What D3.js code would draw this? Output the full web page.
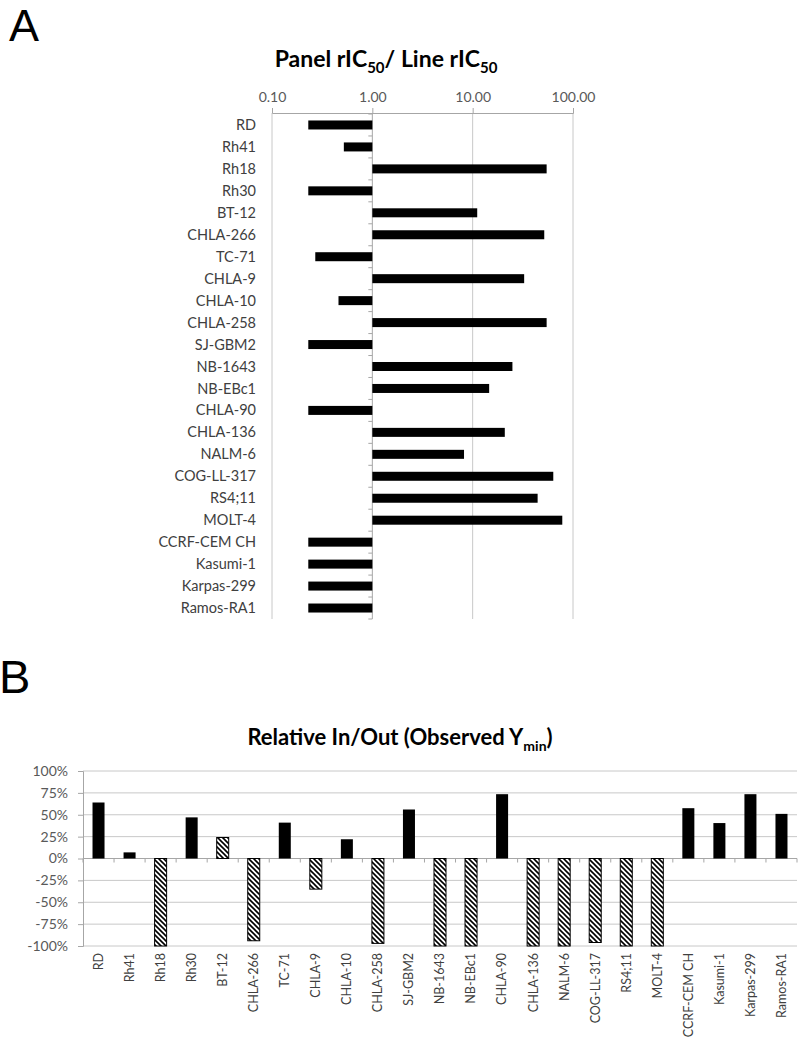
<!DOCTYPE html>
<html>
<head>
<meta charset="utf-8">
<script src="https://cdn.jsdelivr.net/npm/d3@7"></script>
<style>
  html, body { margin: 0; padding: 0; background: #fff; }
  svg { display: block; }
  text { font-family: Lato, "Open Sans", sans-serif; }
</style>
</head>
<body>
<svg id="chart" width="800" height="1040"></svg>
<script>
// ---------- data ----------
const categories = ["RD","Rh41","Rh18","Rh30","BT-12","CHLA-266","TC-71","CHLA-9","CHLA-10","CHLA-258",
  "SJ-GBM2","NB-1643","NB-EBc1","CHLA-90","CHLA-136","NALM-6","COG-LL-317","RS4;11","MOLT-4",
  "CCRF-CEM CH","Kasumi-1","Karpas-299","Ramos-RA1"];
// Panel A: Panel rIC50 / Line rIC50
const ratioValues = [0.23,0.52,54.6,0.23,11.1,51.7,0.27,32.6,0.46,54.6,
  0.23,24.9,14.6,0.23,20.9,8.2,63.6,44.4,78.2,
  0.23,0.23,0.23,0.23];
const ratioTicks = [0.1, 1, 10, 100];
// Panel B: Relative In/Out (Observed Ymin), fraction
const inOutValues = [0.64,0.07,-1.00,0.47,0.24,-0.94,0.41,-0.35,0.22,-0.97,
  0.56,-1.00,-1.00,0.735,-1.00,-1.00,-0.96,-1.00,-1.00,
  0.575,0.405,0.735,0.51];
const pctTicks = [-1,-0.75,-0.5,-0.25,0,0.25,0.5,0.75,1];

const svg = d3.select("#chart");
const gridColor = "#c8c8c8";
const axisColor = "#a6a6a6";

// hatch pattern
const defs = svg.append("defs");
const pat = defs.append("pattern").attr("id","hatch").attr("patternUnits","userSpaceOnUse")
  .attr("width",5).attr("height",5);
pat.append("rect").attr("width",5).attr("height",5).attr("fill","#fff");
pat.append("path").attr("d","M0,0L5,5M-1,4L1,6M4,-1L6,1").attr("stroke","#000").attr("stroke-width",1.6);

// ---------- Panel A ----------
svg.append("text").attr("x",9).attr("y",41).attr("font-size",45)
  .style("font-family","'Liberation Sans', Arial, sans-serif").text("A");

const tA = svg.append("text").attr("x",386).attr("y",67).attr("text-anchor","middle")
  .attr("font-size",23).attr("font-weight","bold").attr("fill","#000");
tA.append("tspan").text("Panel rIC");
tA.append("tspan").attr("font-size",15).attr("dy",6).text("50");
tA.append("tspan").attr("dy",-6).text("/ Line rIC");
tA.append("tspan").attr("font-size",15).attr("dy",6).text("50");

const xA = d3.scaleLog().domain([0.1,100]).range([272,573]);
const yA = d3.scaleBand().domain(categories).range([114,619]).paddingInner(0.59).paddingOuter(0.295);

// gridlines
svg.append("g").selectAll("line").data(ratioTicks.filter(d => d !== 1)).join("line")
  .attr("x1",d=>xA(d)).attr("x2",d=>xA(d)).attr("y1",113).attr("y2",619)
  .attr("stroke",gridColor).attr("stroke-width",1);

// top axis
const axTop = svg.append("g").attr("transform","translate(0,113)")
  .call(d3.axisTop(xA).tickValues(ratioTicks).tickFormat(d3.format(".2f")).tickSize(5).tickPadding(6));
axTop.select(".domain").attr("stroke",axisColor);
axTop.selectAll(".tick line").attr("stroke",axisColor);
axTop.selectAll(".tick text").attr("fill","#595959").attr("font-size",14)
  .style("font-family","Lato, sans-serif");

// vertical axis at 1.00 with category boundary ticks
svg.append("line").attr("x1",xA(1)).attr("x2",xA(1)).attr("y1",113).attr("y2",619)
  .attr("stroke",axisColor);
const bounds = categories.map(c => yA(c) - (yA.step()-yA.bandwidth())/2).concat([619]);
svg.append("g").selectAll("line").data(bounds).join("line")
  .attr("x1",xA(1)-4).attr("x2",xA(1)).attr("y1",d=>d).attr("y2",d=>d)
  .attr("stroke",axisColor);

// bars
svg.append("g").selectAll("rect").data(categories).join("rect")
  .attr("x",(d,i)=>Math.min(xA(1),xA(ratioValues[i])))
  .attr("width",(d,i)=>Math.abs(xA(ratioValues[i])-xA(1)))
  .attr("y",d=>yA(d)).attr("height",yA.bandwidth()).attr("fill","#000");

// category labels
svg.append("g").selectAll("text").data(categories).join("text")
  .attr("x",256).attr("y",d=>yA(d)+yA.bandwidth()/2).attr("dy","0.35em")
  .attr("text-anchor","end").attr("font-size",14.5).attr("fill","#404040").text(d=>d);

// ---------- Panel B ----------
svg.append("text").attr("x",-1).attr("y",693).attr("font-size",47)
  .style("font-family","'Liberation Sans', Arial, sans-serif").text("B");

const tB = svg.append("text").attr("x",400).attr("y",745).attr("text-anchor","middle")
  .attr("font-size",22).attr("font-weight","bold").attr("fill","#000");
tB.append("tspan").text("Relative In/Out (Observed Y");
tB.append("tspan").attr("font-size",14).attr("dy",6).text("min");
tB.append("tspan").attr("dy",-6).text(")");

const xB = d3.scaleBand().domain(categories).range([83,797]).paddingInner(0.613).paddingOuter(0.3065);
const yB = d3.scaleLinear().domain([-1,1]).range([946,771]);

// gridlines
svg.append("g").selectAll("line").data(pctTicks.filter(d=>d!==0)).join("line")
  .attr("x1",83).attr("x2",797).attr("y1",d=>yB(d)).attr("y2",d=>yB(d))
  .attr("stroke",gridColor);

// left axis
const axL = svg.append("g").attr("transform","translate(83,0)")
  .call(d3.axisLeft(yB).tickValues(pctTicks).tickFormat(d=>Math.round(d*100)+"%").tickSize(5).tickPadding(10));
axL.select(".domain").attr("stroke",axisColor);
axL.selectAll(".tick line").attr("stroke",axisColor);
axL.selectAll(".tick text").attr("fill","#595959").attr("font-size",14)
  .style("font-family","Lato, sans-serif");

// zero line with boundary ticks
svg.append("line").attr("x1",83).attr("x2",797).attr("y1",yB(0)).attr("y2",yB(0)).attr("stroke",axisColor);
const boundsB = categories.map(c => xB(c) - (xB.step()-xB.bandwidth())/2).concat([797]);
svg.append("g").selectAll("line").data(boundsB).join("line")
  .attr("x1",d=>d).attr("x2",d=>d).attr("y1",yB(0)).attr("y2",yB(0)+4).attr("stroke",axisColor);

// bars
svg.append("g").selectAll("rect").data(categories).join("rect")
  .attr("x",d=>xB(d)).attr("width",xB.bandwidth())
  .attr("y",(d,i)=>Math.min(yB(0),yB(inOutValues[i])))
  .attr("height",(d,i)=>Math.abs(yB(inOutValues[i])-yB(0)))
  .attr("fill",(d,i)=> ratioValues[i] > 1 ? "url(#hatch)" : "#000")
  .attr("stroke","#000").attr("stroke-width",(d,i)=> ratioValues[i] > 1 ? 1 : 0);

// x labels
svg.append("g").selectAll("text").data(categories).join("text")
  .attr("transform",d=>`translate(${xB(d)+xB.bandwidth()/2},953) rotate(-90)`)
  .attr("dy","0.35em").attr("text-anchor","end").attr("font-size",12.5).attr("fill","#404040").text(d=>d);
</script>
</body>
</html>
